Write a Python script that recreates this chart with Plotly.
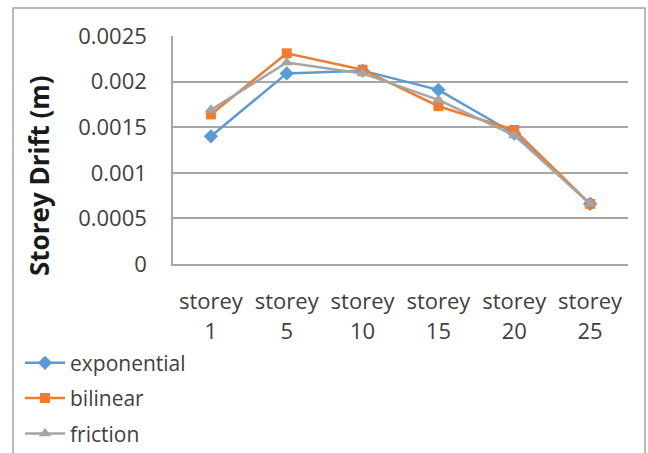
import plotly.graph_objects as go

categories = ["storey 1", "storey 5", "storey 10", "storey 15", "storey 20", "storey 25"]
exponential = [0.00140, 0.00209, 0.00212, 0.00191, 0.00143, 0.00066]
bilinear = [0.00164, 0.00231, 0.00213, 0.00173, 0.00147, 0.00066]
friction = [0.00169, 0.00221, 0.00209, 0.00180, 0.00141, 0.00066]
yticks = [0, 0.0005, 0.001, 0.0015, 0.002, 0.0025]
ytick_labels = ["0", "0.0005", "0.001", "0.0015", "0.002", "0.0025"]

FONT = "Open Sans"
TXT = "#404040"
FS = 22

series = [
    ("exponential", exponential, "#5B9BD5", "diamond", 11),
    ("bilinear", bilinear, "#ED7D31", "square", 10),
    ("friction", friction, "#A5A5A5", "triangle-up", 11),
]

fig = go.Figure()
for name, vals, col, sym, sz in series:
    fig.add_trace(go.Scatter(
        x=categories, y=vals, name=name, mode="lines+markers",
        line=dict(color=col, width=2.5),
        marker=dict(symbol=sym, size=sz, color=col),
        legendgroup=name,
    ))

# invisible trace so the second (number) tick row is drawn
fig.add_trace(go.Scatter(
    x=categories, y=[None] * len(categories), xaxis="x2", yaxis="y",
    showlegend=False, hoverinfo="skip", mode="lines",
))

word_labels = [c.split(" ")[0] for c in categories]
num_labels = [c.split(" ")[1] for c in categories]

fig.update_layout(
    width=648, height=453,
    margin=dict(l=173, r=20, t=36, b=189, autoexpand=False),
    paper_bgcolor="white", plot_bgcolor="white",
    font=dict(family=FONT, size=FS, color=TXT),
    showlegend=True,
    legend=dict(
        x=(20 - 173) / 455, xanchor="left", y=-0.345, yanchor="top",
        orientation="v", traceorder="grouped", tracegroupgap=5,
        font=dict(family=FONT, size=21, color=TXT),
        bgcolor="rgba(0,0,0,0)", itemwidth=40,
    ),
    xaxis=dict(
        type="category", categoryarray=categories, range=[-0.5, 5.5],
        tickmode="array", tickvals=categories, ticktext=word_labels,
        showgrid=False, showline=True, linecolor="#A6A6A6", linewidth=1.5,
        zeroline=False, ticks="",
        ticklabelstandoff=17,
        tickfont=dict(family=FONT, size=FS, color=TXT),
    ),
    xaxis2=dict(
        type="category", categoryarray=categories, range=[-0.5, 5.5],
        overlaying="x", side="bottom", anchor="y",
        tickmode="array", tickvals=categories, ticktext=num_labels,
        showgrid=False, showline=False, zeroline=False, ticks="",
        ticklabelstandoff=52,
        tickfont=dict(family=FONT, size=FS, color=TXT),
    ),
    yaxis=dict(
        range=[0, 0.0025], tickmode="array", tickvals=yticks, ticktext=ytick_labels,
        showgrid=True, gridcolor="#A6A6A6", gridwidth=1.5,
        showline=True, linecolor="#A6A6A6", linewidth=1.5,
        zeroline=False, ticks="", ticklabelstandoff=20,
        tickfont=dict(family=FONT, size=FS, color=TXT),
    ),
    annotations=[dict(
        text="<b>Storey Drift (m)</b>", xref="paper", yref="paper",
        x=(39 - 173) / 455, y=0.386, xanchor="center", yanchor="middle",
        textangle=-90, showarrow=False,
        font=dict(family=FONT, size=26, color="#1a1a1a"),
    )],
    shapes=[dict(
        type="rect", xref="paper", yref="paper",
        x0=-0.3516, x1=1.0374, y0=-0.9, y1=1.1228,
        line=dict(color="#A6A6A6", width=1.5), layer="below",
    )],
)

fig.write_html("out.html")
